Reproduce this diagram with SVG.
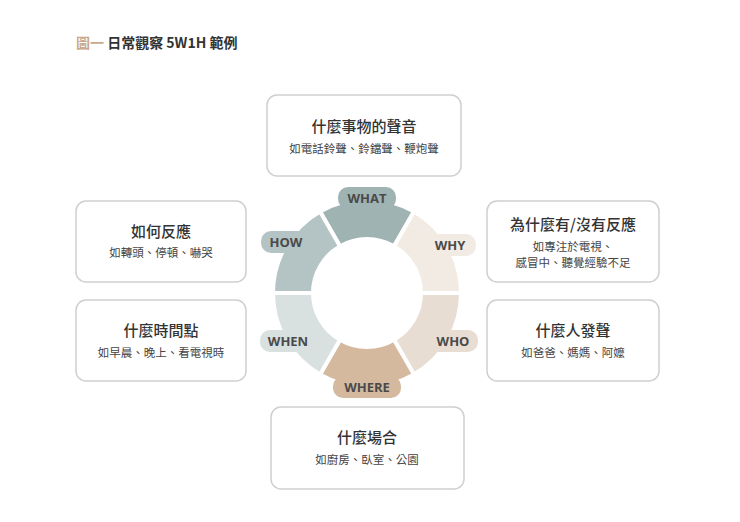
<svg xmlns="http://www.w3.org/2000/svg" width="740" height="522" viewBox="0 0 740 522">
<style>
text{font-family:"Noto Sans CJK TC","Noto Sans",sans-serif;text-anchor:middle;fill:#333}
.box{fill:#fff;stroke:#cfcfcf;stroke-width:1.5}
.h{font-size:15px;font-weight:500}
.s{font-size:11.5px;fill:#444}
.seg{stroke:#fff;stroke-width:4}
.lab{font-family:"Open Sans","Noto Sans",sans-serif;font-size:13px;font-weight:700;fill:#4a4a4a}
</style>
<rect width="740" height="522" fill="#fff"/>
<text x="76" y="48" style="text-anchor:start;font-size:14px;font-weight:700"><tspan fill="#c9a98a">圖一</tspan> 日常觀察 5W1H 範例</text>
<g id="ring">
<path class="seg" fill="#9fb3b2" d="M320,211.6 A94,94 0 0 1 414,211.6 L394,246.2 A54,54 0 0 0 340,246.2 Z"/>
<path class="seg" fill="#f2ebe4" d="M414,211.6 A94,94 0 0 1 461,293 L421,293 A54,54 0 0 0 394,246.2 Z"/>
<path class="seg" fill="#e8ddd2" d="M461,293 A94,94 0 0 1 414,374.4 L394,339.8 A54,54 0 0 0 421,293 Z"/>
<path class="seg" fill="#d4b99f" d="M414,374.4 A94,94 0 0 1 320,374.4 L340,339.8 A54,54 0 0 0 394,339.8 Z"/>
<path class="seg" fill="#d8e0e0" d="M320,374.4 A94,94 0 0 1 273,293 L313,293 A54,54 0 0 0 340,339.8 Z"/>
<path class="seg" fill="#b4c4c4" d="M273,293 A94,94 0 0 1 320,211.6 L340,246.2 A54,54 0 0 0 313,293 Z"/>
</g>
<g id="what-label"><rect x="338" y="187" width="58" height="22" rx="10" fill="#9fb3b2"/><text class="lab" x="367" y="203">WHAT</text></g>
<g id="how-label"><rect x="261" y="231" width="50" height="22" rx="10" fill="#b4c4c4"/><text class="lab" x="286" y="247">HOW</text></g>
<g id="why-label"><rect x="426" y="234" width="50" height="22" rx="10" fill="#f2ebe4"/><text class="lab" x="450" y="250">WHY</text></g>
<g id="when-label"><rect x="260" y="330" width="56" height="22" rx="10" fill="#d8e0e0"/><text class="lab" x="288" y="346">WHEN</text></g>
<g id="who-label"><rect x="428" y="330" width="50" height="22" rx="10" fill="#e8ddd2"/><text class="lab" x="453" y="346">WHO</text></g>
<g id="where-label"><rect x="333" y="376" width="68" height="22" rx="10" fill="#d4b99f"/><text class="lab" x="367" y="392">WHERE</text></g>
<g id="what"><rect class="box" x="267" y="95" width="194" height="81" rx="10"/><text class="h" x="364" y="132">什麼事物的聲音</text><text class="s" x="364" y="153">如電話鈴聲、鈴鐺聲、鞭炮聲</text></g>
<g id="how"><rect class="box" x="76" y="201" width="170" height="81" rx="10"/><text class="h" x="161" y="237">如何反應</text><text class="s" x="161" y="257">如轉頭、停頓、嚇哭</text></g>
<g id="when"><rect class="box" x="76" y="300" width="170" height="81" rx="10"/><text class="h" x="161" y="336">什麼時間點</text><text class="s" x="161" y="357">如早晨、晚上、看電視時</text></g>
<g id="why"><rect class="box" x="487" y="201" width="172" height="81" rx="10"/><text class="h" x="573" y="230">為什麼有/沒有反應</text><text class="s" x="573" y="251">如專注於電視、</text><text class="s" x="573" y="267">感冒中、聽覺經驗不足</text></g>
<g id="who"><rect class="box" x="487" y="300" width="172" height="81" rx="10"/><text class="h" x="573" y="336">什麼人發聲</text><text class="s" x="573" y="357">如爸爸、媽媽、阿嬤</text></g>
<g id="where"><rect class="box" x="271" y="407" width="193" height="82" rx="10"/><text class="h" x="367" y="443">什麼場合</text><text class="s" x="367" y="464">如廚房、臥室、公園</text></g>
<g id="connectors"/>
</svg>
